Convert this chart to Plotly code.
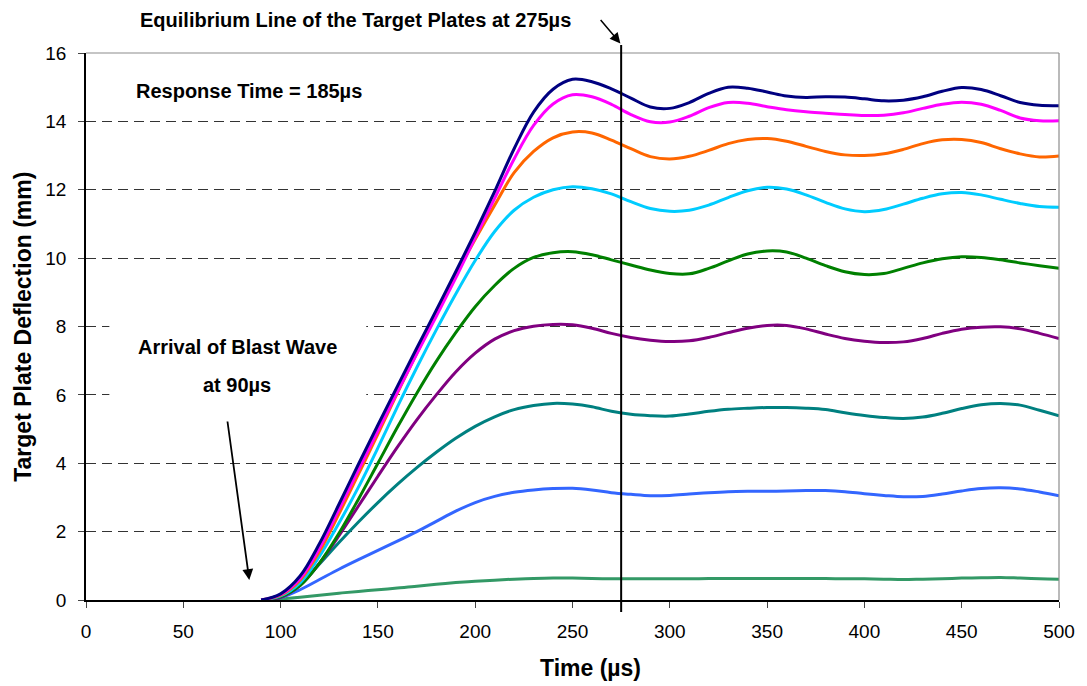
import plotly.graph_objects as go

# Sample times (microseconds)
time_us = [90, 100, 110, 120, 130, 140, 150, 160, 170, 180, 190, 200, 210, 220, 230,
           240, 250, 260, 270, 280, 290, 300, 310, 320, 330, 340, 350, 360, 370, 380,
           390, 400, 410, 420, 430, 440, 450, 460, 470, 480, 490, 500]

# Target plate deflection (mm) for each plate
plate_1 = [0, 0.18, 0.7, 1.65, 2.8, 3.97, 5.12, 6.25, 7.37, 8.48, 9.6, 10.75, 11.95, 13.2, 14.27,
           14.94, 15.23, 15.16, 14.95, 14.68, 14.42, 14.38, 14.55, 14.82, 15.0, 14.97, 14.86, 14.74, 14.70, 14.72,
           14.71, 14.66, 14.60, 14.62, 14.72, 14.88, 14.99, 14.93, 14.75, 14.55, 14.47, 14.46]
plate_2 = [0, 0.16, 0.63, 1.52, 2.65, 3.8, 4.95, 6.08, 7.2, 8.3, 9.42, 10.6, 11.75, 12.9, 13.88,
           14.51, 14.78, 14.72, 14.5, 14.2, 13.99, 13.98, 14.15, 14.4, 14.55, 14.53, 14.43, 14.34, 14.28, 14.24,
           14.2, 14.17, 14.18, 14.25, 14.38, 14.5, 14.56, 14.5, 14.32, 14.1, 14.02, 14.02]
plate_3 = [0, 0.14, 0.58, 1.42, 2.52, 3.68, 4.85, 6.05, 7.22, 8.38, 9.5, 10.55, 11.55, 12.5, 13.12,
           13.52, 13.69, 13.66, 13.45, 13.2, 12.97, 12.9, 12.98, 13.15, 13.35, 13.47, 13.5, 13.42, 13.27, 13.12,
           13.02, 13.0, 13.05, 13.18, 13.35, 13.46, 13.47, 13.38, 13.2, 13.05, 12.96, 12.99]
plate_4 = [0, 0.12, 0.5, 1.28, 2.25, 3.3, 4.45, 5.65, 6.8, 7.9, 8.95, 9.93, 10.78, 11.4, 11.78,
           12.0, 12.09, 12.03, 11.88, 11.65, 11.45, 11.37, 11.4, 11.55, 11.77, 11.97, 12.07, 12.02, 11.85, 11.63,
           11.44, 11.36, 11.42, 11.58, 11.75, 11.88, 11.92, 11.85, 11.72, 11.6, 11.51, 11.49]
plate_5 = [0, 0.1, 0.42, 1.08, 1.95, 2.95, 4.0, 5.05, 6.05, 6.98, 7.82, 8.58, 9.2, 9.7, 10.02,
           10.16, 10.19, 10.1, 9.95, 9.8, 9.65, 9.55, 9.54, 9.7, 9.92, 10.12, 10.21, 10.18, 10.0, 9.78,
           9.6, 9.52, 9.55, 9.7, 9.86, 9.98, 10.04, 10.02, 9.95, 9.86, 9.78, 9.70]
plate_6 = [0, 0.08, 0.43, 1.08, 1.88, 2.75, 3.62, 4.47, 5.27, 6.0, 6.67, 7.22, 7.63, 7.88, 8.01,
           8.06, 8.05, 7.95, 7.8, 7.68, 7.6, 7.56, 7.58, 7.68, 7.82, 7.95, 8.03, 8.03, 7.93, 7.78,
           7.65, 7.57, 7.53, 7.55, 7.65, 7.8, 7.92, 7.98, 7.99, 7.93, 7.8, 7.65]
plate_7 = [0, 0.07, 0.45, 1.05, 1.68, 2.28, 2.85, 3.38, 3.87, 4.32, 4.73, 5.08, 5.36, 5.57, 5.69,
           5.75, 5.73, 5.65, 5.52, 5.43, 5.39, 5.38, 5.44, 5.52, 5.58, 5.61, 5.63, 5.63, 5.61, 5.57,
           5.48, 5.4, 5.34, 5.31, 5.35, 5.46, 5.6, 5.71, 5.75, 5.7, 5.55, 5.39]
plate_8 = [0, 0.07, 0.3, 0.6, 0.9, 1.18, 1.45, 1.72, 2.0, 2.3, 2.6, 2.85, 3.03, 3.15, 3.22,
           3.26, 3.27, 3.22, 3.14, 3.09, 3.05, 3.06, 3.1, 3.14, 3.17, 3.18, 3.18, 3.19, 3.2, 3.2,
           3.17, 3.11, 3.06, 3.02, 3.03, 3.1, 3.19, 3.26, 3.28, 3.25, 3.16, 3.05]
plate_9 = [0, 0.03, 0.08, 0.14, 0.2, 0.25, 0.3, 0.35, 0.4, 0.46, 0.51, 0.55, 0.58, 0.61, 0.63,
           0.64, 0.64, 0.63, 0.62, 0.62, 0.62, 0.62, 0.62, 0.63, 0.63, 0.63, 0.63, 0.63, 0.63, 0.63,
           0.62, 0.62, 0.61, 0.6, 0.61, 0.62, 0.64, 0.65, 0.66, 0.64, 0.62, 0.61]

series = [plate_1, plate_2, plate_3, plate_4, plate_5, plate_6, plate_7, plate_8, plate_9]
colors = ["#000080", "#FF00FF", "#FF6600", "#00CCFF", "#008000",
          "#800080", "#008080", "#3366FF", "#339966"]

x_ticks = [0, 50, 100, 150, 200, 250, 300, 350, 400, 450, 500]
y_ticks = [0, 2, 4, 6, 8, 10, 12, 14, 16]

equilibrium_time = 275
arrival_time = 90

FONT = "Arial, 'Liberation Sans', sans-serif"

fig = go.Figure()

# Deflection curves, drawn back to front so the top plate is on top
for vals, col in reversed(list(zip(series, colors))):
    fig.add_trace(go.Scatter(
        x=time_us, y=vals, mode="lines",
        line=dict(color=col, width=3, shape="spline", smoothing=1.0),
        showlegend=False, hoverinfo="skip",
    ))

shapes = [
    # white box behind the blast-wave label (breaks the gridlines)
    dict(type="rect", xref="x", yref="y", x0=12, x1=144, y0=5.85, y1=8.25,
         fillcolor="white", line=dict(width=0), layer="between"),
    # gray frame on top and right
    dict(type="line", xref="paper", yref="paper", x0=0, x1=1, y0=1, y1=1,
         line=dict(color="#8c8c8c", width=1.2)),
    dict(type="line", xref="paper", yref="paper", x0=1, x1=1, y0=0, y1=1,
         line=dict(color="#8c8c8c", width=1.2)),
    # equilibrium line
    dict(type="line", xref="x", yref="paper", x0=equilibrium_time, x1=equilibrium_time,
         y0=-0.022, y1=1.0146, line=dict(color="black", width=2)),
]

txt = dict(size=20, color="black", family=FONT)
annotations = [
    dict(text="<b>Equilibrium Line of the Target Plates at 275µs</b>", xref="x", yref="paper",
         x=138.5, y=1.060, xanchor="center", yanchor="middle", showarrow=False, font=txt),
    dict(text="", xref="x", yref="paper", x=274.6, y=1.0175, ax=-21, ay=-25,
         showarrow=True, arrowhead=2, arrowsize=1.4, arrowwidth=1.5, arrowcolor="black"),
    dict(text="<b>Response Time = 185µs</b>", xref="x", yref="y",
         x=83.7, y=14.89, xanchor="center", yanchor="middle", showarrow=False, font=txt),
    dict(text="<b>Arrival of Blast Wave</b>", xref="x", yref="y",
         x=77.8, y=7.40, xanchor="center", yanchor="middle", showarrow=False, font=txt),
    dict(text="<b>at 90µs</b>", xref="x", yref="y",
         x=77.8, y=6.29, xanchor="center", yanchor="middle", showarrow=False, font=txt),
    dict(text="", xref="x", yref="y", x=83.9, y=0.585, ax=-22, ay=-160,
         showarrow=True, arrowhead=2, arrowsize=1.2, arrowwidth=1.8, arrowcolor="black"),
    # axis titles
    dict(text="<b>Time (µs)</b>", xref="x", yref="paper", x=259, y=-0.124,
         xanchor="center", yanchor="middle", showarrow=False,
         font=dict(size=23, color="black", family=FONT)),
    dict(text="<b>Target Plate Deflection (mm)</b>", xref="paper", yref="paper",
         x=-0.0655, y=0.5, xanchor="center", yanchor="middle", textangle=-90, showarrow=False,
         font=dict(size=23, color="black", family=FONT)),
]

fig.update_layout(
    width=1087, height=686,
    margin=dict(l=86, r=24, t=53, b=86),
    paper_bgcolor="white", plot_bgcolor="white",
    font=dict(family=FONT, color="black", size=19),
    shapes=shapes, annotations=annotations,
    showlegend=False,
)

fig.update_xaxes(
    range=[0, 500], tickvals=x_ticks, ticktext=[str(v) for v in x_ticks],
    showline=True, linecolor="black", linewidth=1.5,
    ticks="outside", ticklen=6, tickcolor="#444", tickwidth=1.2,
    ticklabelstandoff=7,
    showgrid=False, zeroline=False,
    tickfont=dict(size=19, family=FONT, color="black"),
)
fig.update_yaxes(
    range=[0, 16], tickvals=y_ticks, ticktext=[str(v) for v in y_ticks],
    showline=True, linecolor="black", linewidth=1.5,
    ticks="outside", ticklen=6, tickcolor="#444", tickwidth=1.2,
    ticklabelstandoff=8,
    showgrid=True, gridcolor="#333", gridwidth=1, griddash="10px,6px",
    zeroline=False,
    tickfont=dict(size=19, family=FONT, color="black"),
)

fig.write_html("out.html")
